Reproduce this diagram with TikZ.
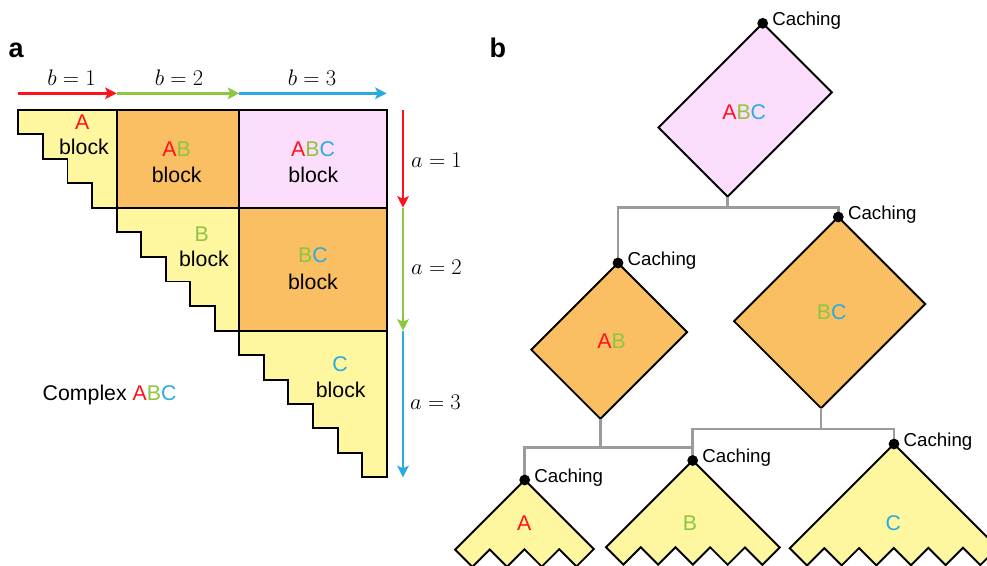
\RequirePackage{fix-cm}
\documentclass[tikz,border=0pt]{standalone}
\usepackage[no-math]{fontspec}
\setmainfont{Liberation Sans}
\usetikzlibrary{arrows.meta,calc}
\definecolor{cred}{RGB}{255,18,28}
\definecolor{cgreen}{RGB}{141,198,63}
\definecolor{cblue}{RGB}{41,171,226}
\definecolor{cyellow}{RGB}{255,246,160}
\definecolor{corange}{RGB}{251,191,99}
\definecolor{cpink}{RGB}{252,222,252}
\definecolor{cgray}{RGB}{155,155,155}
\newcommand\RA{\textcolor{cred}{A}}
\newcommand\RB{\textcolor{cgreen}{B}}
\newcommand\RC{\textcolor{cblue}{C}}
\newcommand\ShapeAblk{\filldraw[blk,fill=cyellow] (18.3,110) -- (116.7,110) -- (116.7,207.7) -- (92.1,207.7) -- (92.1,183.28) -- (67.5,183.28) -- (67.5,158.85) -- (42.9,158.85) -- (42.9,134.43) -- (18.3,134.43) -- cycle;}
\newcommand\ShapeBblk{\filldraw[blk,fill=cyellow] (116.7,207.7) -- (239.3,207.7) -- (239.3,330.7) -- (214.78,330.7) -- (214.78,306.1) -- (190.26,306.1) -- (190.26,281.5) -- (165.74,281.5) -- (165.74,256.9) -- (141.22,256.9) -- (141.22,232.3) -- (116.7,232.3) -- cycle;}
\newcommand\ShapeCblk{\filldraw[blk,fill=cyellow] (239.3,330.7) -- (386.7,330.7) -- (386.7,477.3) -- (362.13,477.3) -- (362.13,452.87) -- (337.57,452.87) -- (337.57,428.43) -- (313,428.43) -- (313,404) -- (288.43,404) -- (288.43,379.57) -- (263.87,379.57) -- (263.87,355.13) -- (239.3,355.13) -- cycle;}
\newcommand\ShapeABblk{\filldraw[blk,fill=corange] (116.7,110) rectangle (239.3,207.7);}
\newcommand\ShapeABCblk{\filldraw[blk,fill=cpink] (239.3,110) rectangle (386.7,207.7);}
\newcommand\ShapeBCblk{\filldraw[blk,fill=corange] (239.3,207.7) rectangle (386.7,330.7);}
\begin{document}
\begin{tikzpicture}[x=1pt,y=-1pt,
  blk/.style={draw=black,line width=1.9pt},
  conn/.style={draw=cgray,line width=2.7pt},
  arr/.style={line width=2.9pt,-{Stealth[length=11.5pt,width=11.5pt,inset=2.5pt]}},
  lbl/.style={font=\fontsize{21.3}{25}\selectfont,inner sep=0pt,anchor=base},
  mlbl/.style={font=\fontsize{22.5}{26}\selectfont,inner sep=0pt},
  cach/.style={font=\fontsize{18.7}{22}\selectfont,inner sep=0pt,anchor=base west},
  panellbl/.style={font=\fontsize{27}{30}\selectfont\bfseries,inner sep=0pt,anchor=base west}]
\useasboundingbox (0,0) rectangle (987,565);
\clip (0,0) rectangle (987,565);

% ---------------- panel a ----------------
\node[panellbl] (pa) at (8.5,57.3) {a};
\ShapeAblk \ShapeBblk \ShapeCblk \ShapeABblk \ShapeABCblk \ShapeBCblk

\node[lbl] (tA) at (82.3,129.3) {\RA};
\node[lbl] (tAb) at (84,154.3) {block};
\node[lbl] (tAB) at (176.7,156) {\RA\RB};
\node[lbl] (tABb) at (176.7,182.7) {block};
\node[lbl] (tABC) at (313,156) {\RA\RB\RC};
\node[lbl] (tABCb) at (313.3,182.7) {block};
\node[lbl] (tB) at (201.7,241) {\RB};
\node[lbl] (tBb) at (204,266) {block};
\node[lbl] (tBC) at (313,262.7) {\RB\RC};
\node[lbl] (tBCb) at (313,289.3) {block};
\node[lbl] (tC) at (340,371.7) {\RC};
\node[lbl] (tCb) at (340.7,397.3) {block};
\node[lbl,anchor=base west] (cx) at (42.5,400) {Complex \RA\RB\RC};

% top arrows
\coordinate (h0) at (18.3,93.3);
\coordinate (h1) at (116.7,93.3);
\coordinate (h2) at (239.3,93.3);
\coordinate (h3) at (386.7,93.3);
\draw[arr,cred] (h0) -- (h1);
\draw[arr,cgreen] (h1) -- (h2);
\draw[arr,cblue] (h2) -- (h3);
\node[mlbl,anchor=base] (lb1) at (71.5,85.7) {$b=1$};
\node[mlbl,anchor=base] (lb2) at (179,85.7) {$b=2$};
\node[mlbl,anchor=base] (lb3) at (312,85.7) {$b=3$};

% side arrows
\coordinate (v0) at (403,110);
\coordinate (v1) at (403,207.7);
\coordinate (v2) at (403,330.7);
\coordinate (v3) at (403,477.3);
\draw[arr,cred] (v0) -- (v1);
\draw[arr,cgreen] (v1) -- (v2);
\draw[arr,cblue] (v2) -- (v3);
\node[mlbl,anchor=base west] (la1) at (411,167.3) {$a=1$};
\node[mlbl,anchor=base west] (la2) at (411,274.3) {$a=2$};
\node[mlbl,anchor=base west] (la3) at (410,409.3) {$a=3$};

% ---------------- panel b ----------------
\node[panellbl] (pb) at (489.5,57.3) {b};

\coordinate (ABCtop) at (762.7,23.3);
\coordinate (ABtop) at (618,263);
\coordinate (BCtop) at (838.3,217);
\coordinate (Atop) at (524.7,480);
\coordinate (Btop) at (692.7,460.5);
\coordinate (Ctop) at (894,444);

\begin{scope}[shift={(762.7,23.3)},rotate=45,shift={(-386.7,-110)}]
  \ShapeABCblk
  \coordinate (ABCbot) at (239.3,207.7);
\end{scope}
\begin{scope}[shift={(618,263)},rotate=45,shift={(-239.3,-110)}]
  \ShapeABblk
  \coordinate (ABbot) at (116.7,207.7);
\end{scope}
\begin{scope}[shift={(838.3,217)},rotate=45,shift={(-386.7,-207.7)}]
  \ShapeBCblk
  \coordinate (BCbot) at (239.3,330.7);
\end{scope}
\begin{scope}[shift={(524.7,480)},rotate=45,shift={(-116.7,-110)}]
  \ShapeAblk
\end{scope}
\begin{scope}[shift={(692.7,460.5)},rotate=45,shift={(-239.3,-207.7)}]
  \ShapeBblk
\end{scope}
\begin{scope}[shift={(894,444)},rotate=45,shift={(-386.7,-330.7)}]
  \ShapeCblk
\end{scope}

% connectors
\draw[conn] (ABCbot) -- ++(0,11) -| (ABtop);
\draw[conn] (ABCbot) -- ++(0,11) -| (BCtop);
\draw[conn] (ABbot) -- ++(0,28.5) -| (Atop);
\draw[conn] (ABbot) -- ++(0,28.5) -| (Btop);
\draw[conn] (BCbot) -- ++(0,20.8) -| (Btop);
\draw[conn] (BCbot) -- ++(0,20.8) -| (Ctop);

% caching dots and labels
\foreach \n in {ABC,AB,BC,A,B,C}{
  \fill[black] (\n top) circle (5.4pt);
  \node[cach] (cach\n) at ($(\n top)+(9.5,2)$) {Caching};
}

% labels in tree
\node[lbl] (dABC) at (744.2,119) {\RA\RB\RC};
\node[lbl] (dAB) at (611.5,348.3) {\RA\RB};
\node[lbl] (dBC) at (831.7,319) {\RB\RC};
\node[lbl] (dA) at (524.3,530) {\RA};
\node[lbl] (dB) at (690,530) {\RB};
\node[lbl] (dC) at (893.3,530) {\RC};
\end{tikzpicture}
\end{document}
